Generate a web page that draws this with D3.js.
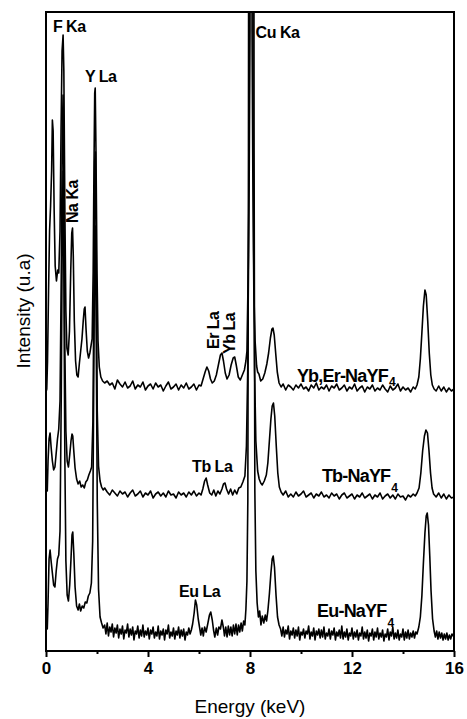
<!DOCTYPE html>
<html>
<head>
<meta charset="utf-8">
<script src="https://cdn.jsdelivr.net/npm/d3@7"></script>
<style>
  body { margin: 0; background: #fff; }
  svg text { font-family: "Liberation Sans", Arial, sans-serif; fill: #000; }
</style>
</head>
<body>
<svg width="467" height="719"></svg>
<script>
// EDS spectra, [energy keV, intensity a.u.] — offset stacked as in the figure
const euSpectrum = [
  [0.00,14],[0.02,42],[0.05,22],[0.08,48],[0.12,92],[0.16,101],[0.20,90],[0.25,78],[0.30,66],[0.35,64],[0.40,80],[0.45,92],[0.50,96],[0.55,120],[0.60,260],[0.64,430],[0.67,480],[0.70,380],[0.74,190],[0.78,90],[0.83,56],[0.88,50],[0.93,66],[0.98,92],[1.02,116],[1.05,119],[1.09,98],[1.14,64],[1.20,45],[1.26,41],[1.31,47],[1.36,40],[1.42,45],[1.48,43],[1.54,49],[1.60,48],[1.66,55],[1.72,58],[1.78,68],[1.83,110],[1.87,260],[1.91,415],[1.94,425],[1.97,310],[2.01,150],[2.06,62],[2.12,34],[2.18,28],[2.24,23],
  [2.30,26],[2.35,17],[2.40,28],[2.45,15],[2.50,24],[2.55,19],[2.60,27],[2.65,14],[2.70,23],[2.75,18],[2.80,26],[2.85,13],[2.90,22],[2.95,17],[3.00,25],[3.05,12],[3.10,21],[3.15,18],[3.20,27],[3.25,14],[3.30,22],[3.35,16],[3.40,24],[3.45,11],[3.50,20],[3.55,17],[3.60,25],[3.65,13],[3.70,21],[3.75,15],[3.80,26],[3.85,14],[3.90,20],[3.95,16],[4.00,23],[4.05,12],[4.10,21],[4.15,17],[4.20,24],[4.25,13],[4.30,19],[4.35,15],[4.40,25],[4.45,12],[4.50,20],[4.55,16],[4.60,22],[4.65,11],[4.70,21],[4.75,17],[4.80,26],[4.85,13],[4.90,19],[4.95,15],[5.00,23],[5.05,12],[5.10,20],[5.15,16],[5.20,24],[5.25,13],[5.30,21],[5.35,15],[5.40,22],[5.45,11],[5.50,19],[5.55,16],[5.60,23],[5.65,17],
  [5.70,21],[5.75,27],[5.81,38],[5.86,51],[5.91,46],[5.97,32],[6.02,24],[6.07,16],[6.12,23],[6.17,15],[6.22,24],[6.28,19],[6.35,28],[6.41,36],[6.46,39],[6.52,31],[6.57,21],[6.62,14],[6.68,23],[6.73,16],[6.78,24],[6.84,22],[6.9,31],[6.96,23],[7.0,15],[7.05,24],[7.1,14],[7.15,25],[7.2,16],[7.25,24],[7.3,15],[7.35,26],[7.4,17],[7.45,27],[7.5,16],[7.55,26],[7.6,19],[7.65,28],[7.7,20],[7.75,30],[7.8,26],[7.84,42],[7.88,70],[7.915,150],[7.94,500],[8.05,4000],[8.16,500],[8.19,160],[8.23,80],[8.28,48],[8.33,34],[8.38,40],[8.43,26],[8.48,35],[8.54,28],[8.6,36],[8.65,30],[8.7,40],[8.76,57],[8.82,78],[8.87,92],[8.91,95],[8.96,84],[9.02,56],[9.08,34],[9.14,26],
  [9.20,22],[9.25,15],[9.30,24],[9.35,14],[9.40,21],[9.45,17],[9.50,25],[9.55,12],[9.60,20],[9.65,16],[9.70,23],[9.75,13],[9.80,21],[9.85,15],[9.90,24],[9.95,11],[10.00,19],[10.05,16],[10.10,22],[10.15,13],[10.20,20],[10.25,17],[10.30,25],[10.35,12],[10.40,19],[10.45,15],[10.50,23],[10.55,11],[10.60,20],[10.65,16],[10.70,22],[10.75,13],[10.80,21],[10.85,14],[10.90,24],[10.95,12],[11.00,18],[11.05,15],[11.10,22],[11.15,12],[11.20,20],[11.25,16],[11.30,23],[11.35,11],[11.40,19],[11.45,15],[11.50,21],[11.55,13],[11.60,25],[11.65,12],[11.70,19],[11.75,14],[11.80,22],[11.85,11],[11.90,18],[11.95,15],[12.00,23],[12.05,12],[12.10,19],[12.15,14],[12.20,21],[12.25,11],[12.30,18],[12.35,15],[12.40,24],[12.45,12],[12.50,19],[12.55,13],[12.60,21],[12.65,10],[12.70,18],[12.75,15],[12.80,22],[12.85,11],[12.90,19],[12.95,14],[13.00,23],[13.05,12],[13.10,18],[13.15,14],[13.20,21],[13.25,10],[13.30,17],[13.35,14],[13.40,22],[13.45,11],[13.50,19],[13.55,15],[13.60,24],[13.65,12],[13.70,18],[13.75,13],[13.80,21],[13.85,11],[13.90,17],[13.95,14],[14.00,22],[14.05,11],[14.10,19],[14.15,13],[14.20,21],[14.25,12],[14.30,18],[14.35,14],[14.40,20],[14.45,13],[14.50,19],[14.55,17],
  [14.62,24],[14.68,34],[14.74,55],[14.8,88],[14.86,118],[14.91,135],[14.95,138],[15.0,126],[15.05,95],[15.1,60],[15.16,32],[15.22,20],[15.27,14],[15.32,20],[15.37,12],[15.42,19],[15.47,13],[15.52,18],[15.57,11],[15.62,17],[15.67,12],[15.72,18],[15.77,11],[15.82,16],[15.87,12],[15.92,17],[16.0,14]
];

const tbSpectrum = [
  [0.00,150],[0.02,168],[0.05,160],[0.08,190],[0.12,212],[0.16,218],[0.20,204],[0.25,190],[0.30,181],[0.35,184],[0.40,198],[0.45,212],[0.50,222],[0.55,250],[0.60,380],[0.64,520],[0.67,556],[0.70,470],[0.74,300],[0.78,220],[0.83,190],[0.88,184],[0.93,196],[0.98,210],[1.02,217],[1.05,215],[1.09,200],[1.14,183],[1.20,172],[1.26,167],[1.32,170],[1.38,164],[1.44,166],[1.50,163],[1.56,169],[1.62,171],[1.68,176],[1.74,180],[1.79,184],[1.84,230],[1.88,360],[1.91,490],[1.94,499],[1.97,400],[2.01,240],[2.06,185],[2.12,170],[2.18,164],[2.24,161],[2.30,163],
  [2.4,159],[2.5,156],[2.6,161],[2.7,158],[2.8,155],[2.9,160],[3.0,157],[3.1,159],[3.2,154],[3.3,158],[3.4,161],[3.5,155],[3.6,157],[3.7,160],[3.8,154],[3.9,158],[4.0,156],[4.1,160],[4.2,153],[4.3,157],[4.4,159],[4.5,155],[4.6,158],[4.7,154],[4.8,160],[4.9,156],[5.0,157],[5.1,153],[5.2,159],[5.3,156],[5.4,158],[5.5,154],[5.6,159],[5.7,156],[5.8,160],[5.9,155],[6.0,158],
  [6.08,156],[6.15,162],[6.22,170],[6.28,173],[6.34,166],[6.42,158],[6.5,156],[6.58,161],[6.66,155],[6.74,160],[6.82,157],[6.9,162],[6.96,167],[7.02,168],[7.08,162],[7.16,157],[7.24,162],[7.32,156],[7.4,161],[7.48,157],[7.56,163],[7.64,164],[7.72,169],[7.8,175],[7.86,205],[7.91,280],[7.945,400],[7.97,560],[8.045,4000],[8.12,560],[8.145,400],[8.18,280],[8.23,210],[8.3,180],[8.36,172],[8.42,168],[8.48,166],[8.56,170],[8.64,176],[8.7,188],[8.76,210],[8.82,232],[8.87,245],[8.92,248],[8.97,235],[9.03,205],[9.09,178],[9.15,164],[9.22,159],[9.3,156],[9.4,160],[9.5,154],
  [9.6,157],[9.7,154],[9.8,159],[9.9,155],[10.0,157],[10.1,160],[10.2,154],[10.3,156],[10.4,158],[10.5,153],[10.6,157],[10.7,155],[10.8,159],[10.9,154],[11.0,156],[11.1,153],[11.2,158],[11.3,155],[11.4,157],[11.5,152],[11.6,156],[11.7,158],[11.8,153],[11.9,155],[12.0,157],[12.1,152],[12.2,156],[12.3,154],[12.4,158],[12.5,153],[12.6,155],[12.7,157],[12.8,152],[12.9,156],[13.0,154],[13.1,158],[13.2,152],[13.3,155],[13.4,157],[13.5,153],[13.6,156],[13.7,152],[13.8,157],[13.9,154],[14.0,155],[14.1,151],[14.2,156],[14.3,154],[14.4,157],[14.48,155],
  [14.55,158],[14.63,163],[14.7,178],[14.77,200],[14.84,215],[14.9,221],[14.96,218],[15.02,200],[15.08,178],[15.14,163],[15.2,157],[15.3,154],[15.4,158],[15.5,153],[15.6,157],[15.7,152],[15.8,156],[15.9,153],[16.0,154]
];

const ybErSpectrum = [
  [0.00,259],[0.03,262],[0.06,290],[0.10,360],[0.14,420],[0.18,445],[0.22,480],[0.25,531],[0.28,520],[0.32,440],[0.36,385],[0.41,370],[0.46,381],[0.50,378],[0.55,420],[0.59,520],[0.63,600],[0.67,616],[0.70,580],[0.74,440],[0.78,340],[0.82,303],[0.87,296],[0.92,320],[0.97,380],[1.01,418],[1.04,423],[1.07,395],[1.11,330],[1.16,290],[1.21,276],[1.26,274],[1.31,288],[1.36,300],[1.41,312],[1.46,330],[1.50,342],[1.53,344],[1.57,322],[1.62,300],[1.67,293],[1.72,298],[1.77,306],[1.81,312],[1.85,380],[1.88,480],[1.91,558],[1.93,563],[1.96,500],[2.00,380],[2.04,310],[2.09,284],[2.15,274],[2.22,270],[2.30,268],
  [2.4,270],[2.5,266],[2.6,268],[2.7,262],[2.8,271],[2.9,267],[3.0,264],[3.1,269],[3.2,263],[3.3,265],[3.4,270],[3.5,262],[3.6,266],[3.7,264],[3.8,269],[3.9,261],[4.0,265],[4.1,267],[4.2,262],[4.3,268],[4.4,264],[4.5,266],[4.6,260],[4.7,265],[4.8,269],[4.9,262],[5.0,264],[5.1,267],[5.2,261],[5.3,266],[5.4,263],[5.5,268],[5.6,262],[5.7,264],[5.8,267],[5.9,261],[6.0,266],
  [6.08,265],[6.16,272],[6.24,279],[6.31,284],[6.38,280],[6.45,272],[6.52,268],[6.6,270],[6.68,276],[6.76,286],[6.84,296],[6.9,298],[6.96,290],[7.03,278],[7.1,272],[7.18,276],[7.26,286],[7.34,293],[7.4,294],[7.46,286],[7.54,274],[7.62,271],[7.7,276],[7.78,281],[7.84,290],[7.88,300],[7.93,380],[7.97,480],[8.0,620],[8.04,4000],[8.08,620],[8.11,480],[8.15,360],[8.2,310],[8.26,285],[8.3,279],[8.35,277],[8.42,270],[8.5,272],[8.58,278],[8.66,287],[8.73,298],[8.8,313],[8.86,322],[8.9,323],[8.95,316],[9.01,297],[9.07,279],[9.14,268],[9.22,264],[9.3,267],[9.4,261],[9.5,266],
  [9.6,264],[9.7,261],[9.8,266],[9.9,263],[10.0,267],[10.1,262],[10.2,264],[10.3,260],[10.4,266],[10.5,263],[10.6,268],[10.7,261],[10.8,264],[10.9,262],[11.0,266],[11.1,260],[11.2,265],[11.3,263],[11.4,267],[11.5,261],[11.6,263],[11.7,266],[11.8,260],[11.9,264],[12.0,262],[12.1,267],[12.2,260],[12.3,263],[12.4,265],[12.5,259],[12.6,264],[12.7,262],[12.8,266],[12.9,260],[13.0,263],[13.1,261],[13.2,266],[13.3,262],[13.4,259],[13.5,265],[13.6,261],[13.7,263],[13.8,267],[13.9,260],[14.0,264],[14.1,261],[14.2,263],[14.3,259],[14.4,264],[14.48,262],
  [14.55,266],[14.62,274],[14.68,292],[14.74,318],[14.8,345],[14.86,361],[14.91,356],[14.97,330],[15.03,298],[15.09,276],[15.15,266],[15.22,262],[15.3,260],[15.4,265],[15.5,260],[15.6,264],[15.7,259],[15.8,263],[15.9,260],[16.0,262]
];

const xTicks = [0, 4, 8, 12, 16];
const xMinorTicks = [2, 6, 10, 14];

// peak annotations: [text, energy, intensity, rotated]
const peakLabels = [
  ["F Ka", 0.27, 619, false],
  ["Y La", 1.53, 569, false],
  ["Cu Ka", 8.22, 613, false],
  ["Tb La", 5.73, 179, false],
  ["Eu La", 5.22, 54, false],
  ["Na Ka", 1.24, 428, true],
  ["Er La", 6.8, 302, true],
  ["Yb La", 7.42, 297, true]
];

// sample names: [main, subscript, energy, intensity, subscript drop]
const sampleLabels = [
  ["Yb,Er-NaYF", "4", 9.84, 269, 4],
  ["Tb-NaYF", "4", 10.82, 169, 10],
  ["Eu-NaYF", "4", 10.63, 34, 10]
];

const margin = {top: 12, right: 13, bottom: 68, left: 46},
      width = 467 - margin.left - margin.right,
      height = 719 - margin.top - margin.bottom;

const svg = d3.select("svg")
  .append("g")
  .attr("transform", `translate(${margin.left},${margin.top})`);

const x = d3.scaleLinear().domain([0, 16]).range([0, width]);
const y = d3.scaleLinear().domain([0, 639]).range([height, 0]);

svg.append("clipPath").attr("id", "plotClip")
  .append("rect").attr("width", width).attr("height", height);

const line = d3.line()
  .x(d => x(d[0]))
  .y(d => y(d[1]));

const plot = svg.append("g").attr("clip-path", "url(#plotClip)");
[euSpectrum, tbSpectrum, ybErSpectrum].forEach(s => {
  plot.append("path")
    .datum(s)
    .attr("fill", "none")
    .attr("stroke", "#000")
    .attr("stroke-width", 1.6)
    .attr("stroke-linejoin", "round")
    .attr("d", line);
});

// frame
svg.append("rect")
  .attr("width", width).attr("height", height)
  .attr("fill", "none").attr("stroke", "#000").attr("stroke-width", 2);

// bottom axis
const xAxis = svg.append("g")
  .attr("transform", `translate(0,${height})`)
  .call(d3.axisBottom(x).tickValues(xTicks).tickSize(6).tickPadding(5).tickFormat(d3.format("d")));
xAxis.select(".domain").remove();
xAxis.selectAll("line").attr("stroke-width", 2);
xAxis.selectAll("text")
  .style("font-family", "'Liberation Sans', Arial, sans-serif")
  .style("font-size", "17px").style("font-weight", "bold");

svg.append("g")
  .attr("transform", `translate(0,${height})`)
  .call(d3.axisBottom(x).tickValues(xMinorTicks).tickSize(3).tickFormat(""))
  .call(g => g.select(".domain").remove())
  .selectAll("line").attr("stroke-width", 2);

svg.append("text")
  .attr("x", width / 2).attr("y", height + 62)
  .attr("text-anchor", "middle")
  .style("font-size", "19px")
  .text("Energy (keV)");

svg.append("text")
  .attr("transform", `translate(${-16},${y(340)}) rotate(-90)`)
  .attr("text-anchor", "middle")
  .style("font-size", "19px")
  .text("Intensity (u.a)");

// peak labels
peakLabels.forEach(([t, e, v, rot]) => {
  svg.append("text")
    .attr("transform", `translate(${x(e)},${y(v)})` + (rot ? " rotate(-90)" : ""))
    .style("font-size", "16px").style("font-weight", "bold")
    .style("letter-spacing", "-0.5px")
    .text(t);
});

sampleLabels.forEach(([t, sub, e, v, drop]) => {
  const txt = svg.append("text")
    .attr("x", x(e)).attr("y", y(v))
    .style("font-size", "18px").style("font-weight", "bold")
    .style("letter-spacing", "-0.8px");
  txt.append("tspan").text(t);
  txt.append("tspan").attr("dy", drop).style("font-size", "12px").attr("dx", 1).text(sub);
});
</script>
</body>
</html>
